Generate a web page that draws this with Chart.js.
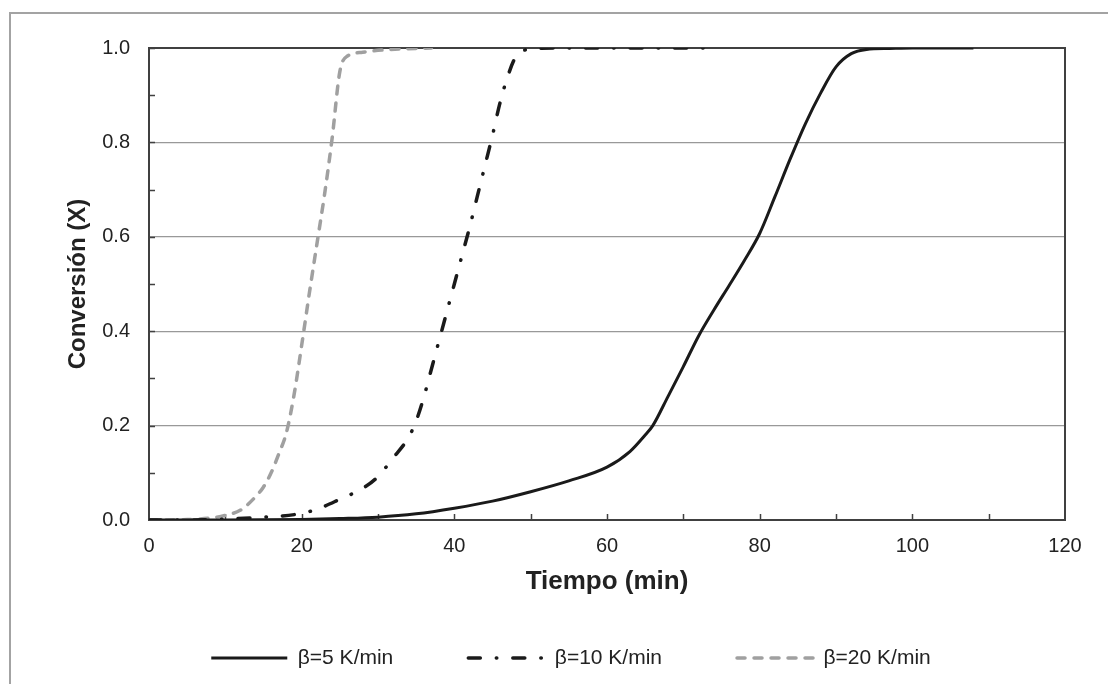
<!DOCTYPE html>
<html>
<head>
<meta charset="utf-8">
<script src="https://cdn.jsdelivr.net/npm/chart.js@4/dist/chart.umd.min.js"></script>
<style>
  html, body { margin: 0; padding: 0; background: #fff; overflow: hidden; }
  #frame { position: absolute; left: 9px; top: 12px; width: 1300px; height: 900px; border: 2px solid #a3a3a3; }
  #c { position: absolute; left: 0; top: 0; }
</style>
</head>
<body>
<div id="frame"></div>
<canvas id="c" width="1108" height="684"></canvas>
<script>
// beta = 5 K/min
var time5 = [0, 10, 20, 25, 30, 35, 40, 45, 50, 55, 60, 63, 65, 66, 68, 70, 72, 74, 76, 78, 80, 82, 84, 86, 88, 90, 92, 94, 97, 100, 104, 108];
var conv5 = [0, 0, 0.001, 0.003, 0.006, 0.013, 0.025, 0.04, 0.06, 0.083, 0.112, 0.145, 0.18, 0.2, 0.262, 0.325, 0.39, 0.445, 0.497, 0.55, 0.607, 0.685, 0.765, 0.84, 0.905, 0.96, 0.988, 0.997, 0.999, 1, 1, 1];

// beta = 10 K/min
var time10 = [0, 5, 10, 15, 20, 22.5, 25, 28, 30, 32, 34, 35, 36, 37, 38, 39, 40, 41, 42, 43, 44, 45, 46, 47, 48, 49, 50, 55, 60, 65, 73];
var conv10 = [0, 0, 0.002, 0.006, 0.014, 0.026, 0.044, 0.067, 0.092, 0.132, 0.175, 0.21, 0.26, 0.32, 0.38, 0.44, 0.5, 0.56, 0.62, 0.685, 0.75, 0.815, 0.885, 0.94, 0.98, 0.994, 0.998, 1, 1, 1, 1];

// beta = 20 K/min
var time20 = [0, 5, 8, 10, 12, 14, 15, 16, 17, 18, 19, 20, 21, 22, 23, 24, 25, 26, 28, 30, 33, 37];
var conv20 = [0, 0.001, 0.004, 0.01, 0.021, 0.05, 0.07, 0.1, 0.14, 0.185, 0.265, 0.37, 0.48, 0.585, 0.69, 0.81, 0.95, 0.983, 0.991, 0.995, 0.998, 1];

var labels = ['\u03B2=5 K/min', '\u03B2=10 K/min', '\u03B2=20 K/min'];

function pts(xs, ys) {
  return xs.map(function (x, i) { return { x: x, y: ys[i] }; });
}

var FONT = "'Liberation Sans', Arial, sans-serif";
var AXIS = '#404040';

// inward tick marks + box around the plot area
var plotFrame = {
  id: 'plotFrame',
  beforeDatasetsDraw: function (chart) {
    var a = chart.chartArea, ctx = chart.ctx;
    var xs = chart.scales.x, ys = chart.scales.y;
    ctx.save();
    ctx.strokeStyle = AXIS;
    ctx.lineWidth = 2;
    ctx.strokeRect(a.left, a.top, a.right - a.left, a.bottom - a.top);
    ctx.lineWidth = 1.5;
    ctx.beginPath();
    for (var v = 0.1; v < 1; v += 0.1) {
      var py = Math.round(ys.getPixelForValue(v)) + 0.5;
      ctx.moveTo(a.left, py);
      ctx.lineTo(a.left + 6, py);
    }
    for (var t = 10; t < 120; t += 10) {
      var px = Math.round(xs.getPixelForValue(t)) + 0.5;
      ctx.moveTo(px, a.bottom);
      ctx.lineTo(px, a.bottom - 6);
    }
    ctx.stroke();
    ctx.restore();
  }
};

// fixed legend box height (labels.padding is wide for the horizontal gaps)
var legendHeight = {
  id: 'legendHeight',
  beforeUpdate: function (chart) {
    var lg = chart.legend;
    if (lg && !lg._hfix) {
      var fit = lg.fit;
      lg.fit = function () { fit.call(this); this.height = 110; };
      lg._hfix = true;
    }
  }
};

new Chart(document.getElementById('c').getContext('2d'), {
  type: 'line',
  data: {
    datasets: [
      { label: labels[0], data: pts(time5, conv5), borderColor: '#1a1a1a', borderWidth: 3, borderDash: [] },
      { label: labels[1], data: pts(time10, conv10), borderColor: '#1a1a1a', borderWidth: 3.5,
        borderDash: [12, 16, 0.5, 16], borderCapStyle: 'round' },
      { label: labels[2], data: pts(time20, conv20), borderColor: '#a0a0a0', borderWidth: 3.5,
        borderDash: [8, 9], borderCapStyle: 'round' }
    ]
  },
  options: {
    responsive: false,
    animation: false,
    elements: {
      point: { radius: 0 },
      line: { cubicInterpolationMode: 'monotone', fill: false, backgroundColor: 'transparent' }
    },
    layout: { padding: { left: 77, top: 48, right: 43, bottom: 1.5 } },
    scales: {
      x: {
        type: 'linear', min: 0, max: 120,
        afterFit: function (s) { s.height = 52.5; },
        ticks: { stepSize: 20, padding: 14, color: '#222', font: { family: FONT, size: 20 } },
        grid: { display: false, drawTicks: false },
        border: { color: AXIS, width: 2 },
        title: { display: true, text: 'Tiempo (min)', color: '#222', padding: { top: 0, bottom: -10 },
                 font: { family: FONT, size: 26, weight: 'bold', lineHeight: 0.05 } }
      },
      y: {
        min: 0, max: 1,
        afterFit: function (s) { s.width = 72; },
        ticks: { stepSize: 0.2, padding: 19, color: '#222', font: { family: FONT, size: 20 },
                 callback: function (v) { return v.toFixed(1); } },
        grid: { drawTicks: false, lineWidth: 1.2,
                color: function (c) { return c.tick && c.tick.value > 0 && c.tick.value < 1 ? '#999999' : 'rgba(0,0,0,0)'; } },
        border: { color: AXIS, width: 2 },
        title: { display: true, text: 'Conversi\u00F3n (X)', color: '#222', padding: 0,
                 font: { family: FONT, size: 24, weight: 'bold', lineHeight: 0.1 } }
      }
    },
    plugins: {
      legend: {
        position: 'bottom',
        labels: {
          usePointStyle: true, pointStyle: 'line', pointStyleWidth: 76, padding: 75,
          color: '#222', font: { family: FONT, size: 21 },
          generateLabels: function (chart) {
            var items = Chart.defaults.plugins.legend.labels.generateLabels(chart);
            items.forEach(function (it) {
              var ds = chart.data.datasets[it.datasetIndex];
              it.lineDash = ds.borderDash;
              it.lineWidth = ds.borderWidth;
              it.strokeStyle = ds.borderColor;
              it.lineCap = ds.borderCapStyle || 'butt';
            });
            return items;
          }
        }
      },
      tooltip: { enabled: false }
    }
  },
  plugins: [plotFrame, legendHeight]
});
</script>
</body>
</html>
